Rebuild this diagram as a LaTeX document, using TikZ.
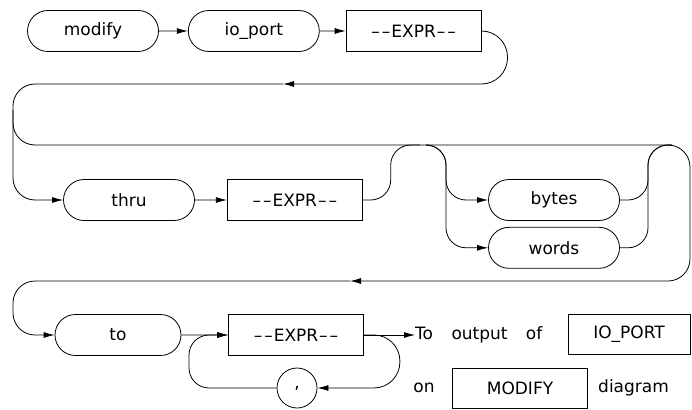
\documentclass[tikz,border=0pt]{standalone}
\usepackage{fontspec}
\setmainfont{DejaVu Sans}
\usepackage{tikz}
\usetikzlibrary{arrows.meta, positioning, shapes.misc}

\newcommand{\railfont}{\fontsize{17pt}{20pt}\selectfont}
\newcommand{\exprtext}{\textendash\hspace{2pt}\textendash\hspace{1pt}EXPR\hspace{1pt}\textendash\hspace{2pt}\textendash}

\begin{document}
\begin{tikzpicture}[
    x=1pt, y=-1pt,
    term/.style={rounded rectangle, draw=black, line width=0.8pt, minimum width=135pt, minimum height=41pt, inner sep=2pt, font=\railfont},
    nonterm/.style={rectangle, draw=black, line width=0.8pt, minimum width=135pt, minimum height=41pt, inner sep=2pt, font=\railfont},
    plaintext/.style={inner sep=0pt, font=\railfont},
    wire/.style={draw=black, line width=0.8pt},
    arrow/.style={wire, -{Latex[length=11pt,width=6pt]}}
]
\useasboundingbox (0,0) rectangle (692,409);

% Row 1: modify io_port EXPR
\node[term] (modify) at (93,31) {modify};
\node[term, right=29pt of modify] (ioport) {io\_port};
\node[nonterm, right=26pt of ioport] (expr1) {\exprtext};

% Row 2: thru EXPR, then bytes / words
\node[term] (thru) at (129,200) {thru};
\node[nonterm, right=32pt of thru] (expr2) {\exprtext};
\node[term] (bytes) at (554,200) {bytes};
\node[term, below=6pt of bytes] (words) {words};

% Row 3: to EXPR [, EXPR]
\node[term, minimum width=130pt] (to) at (118,335) {to};
\node[nonterm] (expr3) at (296,335) {\exprtext};
\node[circle, draw=black, line width=0.8pt, minimum size=40pt, inner sep=0pt, font=\railfont] (comma) at (297,388) {,};

% Note on the right
\node[plaintext, anchor=west] (outtxt) at (415,335) {To\hspace{13pt} output\hspace{13pt} of};
\node[nonterm, minimum width=122pt, minimum height=40pt] (ioref) at (629,334) {IO\_PORT};
\node[plaintext] (ontxt) at (424,388) {on};
\node[nonterm, minimum height=40pt] (modref) at (520,388) {MODIFY};
\node[plaintext, anchor=west] (diagtxt) at (598,388) {diagram};

% Junction points
\coordinate (ret1) at (283,84);
\coordinate (ret2) at (350,281);
\coordinate (fork1) at (13,110);
\coordinate (merge1) at (420,145);
\coordinate (split1) at (426,145);
\coordinate (join1) at (672,145);

% Connectors
\draw[arrow] (modify) -- (ioport);
\draw[arrow] (ioport) -- (expr1);
\draw[arrow, rounded corners=26] (expr1.east) -- ++(26,0) |- (ret1);
\draw[arrow, rounded corners=22] (ret1) -- (13,84) -- (13,200) -- (thru.west);
\draw[arrow, rounded corners=22] (fork1) |- (690,145) |- (ret2);

\draw[arrow] (thru) -- (expr2);
\draw[wire, rounded corners=20] (expr2.east) -- ++(28,0) |- (merge1);
\draw[arrow, rounded corners=20] (split1) -- (446,145) |- (bytes.west);
\draw[arrow, rounded corners=20] (split1) -- (446,145) |- (words.west);
\draw[wire, rounded corners=20] (bytes.east) -| (648,145) -- (join1);
\draw[wire, rounded corners=20] (words.east) -| (648,145) -- (join1);

\draw[arrow, rounded corners=22] (ret2) -- (13,281) -- (13,335) -- (to.west);
\draw[arrow] (to) -- (expr3);
\draw[arrow] (expr3) -- (outtxt);
\draw[arrow, rounded corners=26] (expr3.east) -- ++(36,0) |- (comma.east);
\draw[arrow, rounded corners=20] (comma.west) -| (189,335) -- (expr3.west);

\end{tikzpicture}
\end{document}
